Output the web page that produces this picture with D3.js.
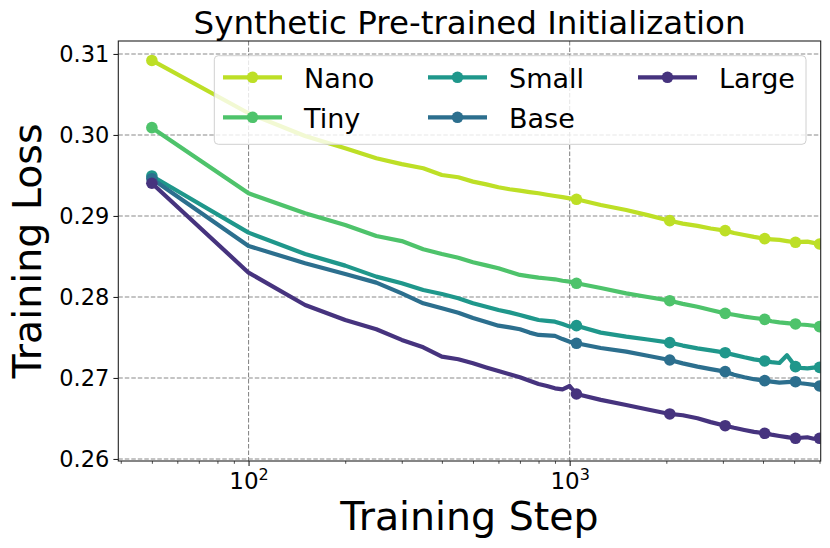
<!DOCTYPE html>
<html>
<head>
<meta charset="utf-8">
<script src="https://cdnjs.cloudflare.com/ajax/libs/d3/7.8.5/d3.min.js"></script>
<style>
    body { margin: 0; background: #fff; }
    text { font-family: "DejaVu Sans", sans-serif; fill: #000; }
</style>
</head>
<body>
<svg></svg>
<script>
// training steps (x) and loss per model size (y)
let steps = [50, 100, 150, 200, 250, 300, 350, 400, 450, 500, 550, 600, 650, 700, 750, 800, 850, 900, 950, 1000,
             1050, 1250, 1500, 1750, 2050, 2250, 2500, 2750, 3050, 3250, 3500, 3750, 4050, 4250, 4500, 4750,
             5050, 5250, 5500, 5750, 6000];

let nano  = [0.30920, 0.30268, 0.29988, 0.29836, 0.29712, 0.29640, 0.29589, 0.29506, 0.29478, 0.29424, 0.29390, 0.29354, 0.29330, 0.29313, 0.29295, 0.29280, 0.29262, 0.29247, 0.29232, 0.29218,
             0.29206, 0.29135, 0.29074, 0.29010, 0.28942, 0.28905, 0.28877, 0.28845, 0.28819, 0.28790, 0.28765, 0.28742, 0.28720, 0.28712, 0.28704, 0.28690,
             0.28675, 0.28680, 0.28683, 0.28668, 0.28654];
let tiny  = [0.30090, 0.29280, 0.29033, 0.28889, 0.28753, 0.28690, 0.28589, 0.28531, 0.28485, 0.28428, 0.28390, 0.28354, 0.28310, 0.28272, 0.28255, 0.28238, 0.28228, 0.28218, 0.28200, 0.28189,
             0.28169, 0.28110, 0.28045, 0.28000, 0.27954, 0.27915, 0.27880, 0.27840, 0.27798, 0.27780, 0.27757, 0.27740, 0.27724, 0.27700, 0.27687, 0.27678,
             0.27667, 0.27660, 0.27654, 0.27645, 0.27634];
let small = [0.29494, 0.28794, 0.28531, 0.28387, 0.28251, 0.28170, 0.28086, 0.28037, 0.27984, 0.27922, 0.27880, 0.27840, 0.27810, 0.27778, 0.27745, 0.27716, 0.27705, 0.27695, 0.27665, 0.27634,
             0.27646, 0.27560, 0.27510, 0.27475, 0.27436, 0.27400, 0.27366, 0.27340, 0.27312, 0.27285, 0.27255, 0.27230, 0.27210, 0.27195, 0.27185, 0.27280,
             0.27140, 0.27125, 0.27119, 0.27128, 0.27131];
let base  = [0.29460, 0.28630, 0.28416, 0.28284, 0.28177, 0.28045, 0.27922, 0.27860, 0.27806, 0.27740, 0.27690, 0.27646, 0.27625, 0.27601, 0.27560, 0.27531, 0.27525, 0.27519, 0.27480, 0.27448,
             0.27428, 0.27370, 0.27325, 0.27275, 0.27222, 0.27180, 0.27140, 0.27110, 0.27078, 0.27040, 0.27009, 0.26985, 0.26967, 0.26955, 0.26942, 0.26948,
             0.26954, 0.26935, 0.26926, 0.26915, 0.26901];
let large = [0.29404, 0.28300, 0.27901, 0.27716, 0.27601, 0.27470, 0.27379, 0.27263, 0.27231, 0.27181, 0.27130, 0.27086, 0.27045, 0.27009, 0.26965, 0.26926, 0.26900, 0.26872, 0.26860, 0.26901,
             0.26802, 0.26730, 0.26667, 0.26610, 0.26556, 0.26540, 0.26502, 0.26455, 0.26411, 0.26385, 0.26358, 0.26335, 0.26317, 0.26300, 0.26284, 0.26270,
             0.26255, 0.26262, 0.26268, 0.26250, 0.26255];

let seriesNames = ["Nano", "Tiny", "Small", "Base", "Large"];
let seriesValues = [nano, tiny, small, base, large];
let markerSteps = [50, 1050, 2050, 3050, 4050, 5050, 6000];

let yTicks = [0.26, 0.27, 0.28, 0.29, 0.30, 0.31];
let xMajorTicks = [100, 1000];
let xMinorTicks = [40, 50, 60, 70, 80, 90, 200, 300, 400, 500, 600, 700, 800, 900, 2000, 3000, 4000, 5000, 6000];

let colors = ["#bddf26", "#4ec36b", "#1f978b", "#2c6f8e", "#46337e"];

let width = 830;
let height = 548;
let plotLeft = 118.3, plotRight = 820.7, plotTop = 41, plotBottom = 461;

let svg = d3.select("svg").attr("width", width).attr("height", height);

let xScale = d3.scaleLog().domain([39.3, 6050]).range([plotLeft, plotRight]);
let yScale = d3.scaleLinear().domain([0.25975, 0.3116]).range([plotBottom, plotTop]);

// grid
svg.append("g")
   .selectAll("line")
   .data(yTicks)
   .enter()
   .append("line")
   .attr("x1", plotLeft).attr("x2", plotRight)
   .attr("y1", (d) => yScale(d)).attr("y2", (d) => yScale(d))
   .attr("stroke", "#8a8a8a").attr("stroke-width", 1.1).attr("stroke-dasharray", "4.5,2");

svg.append("g")
   .selectAll("line")
   .data(xMajorTicks)
   .enter()
   .append("line")
   .attr("x1", (d) => xScale(d)).attr("x2", (d) => xScale(d))
   .attr("y1", plotTop).attr("y2", plotBottom)
   .attr("stroke", "#8a8a8a").attr("stroke-width", 1.1).attr("stroke-dasharray", "4.5,2");

// lines
svg.append("clipPath").attr("id", "plot-clip")
   .append("rect").attr("x", plotLeft).attr("y", plotTop).attr("width", plotRight - plotLeft).attr("height", plotBottom - plotTop);

let plot = svg.append("g").attr("clip-path", "url(#plot-clip)");

let line = d3.line()
             .x((d) => xScale(d[0]))
             .y((d) => yScale(d[1]));

seriesValues.forEach((values, i) => {
    let points = steps.map((s, j) => [s, values[j]]);
    plot.append("path")
        .datum(points)
        .attr("fill", "none")
        .attr("stroke", colors[i])
        .attr("stroke-width", 4.2)
        .attr("stroke-linejoin", "round")
        .attr("d", line);
    plot.selectAll(".m" + i)
        .data(points.filter((p) => markerSteps.includes(p[0])))
        .enter()
        .append("circle")
        .attr("class", "m" + i)
        .attr("cx", (d) => xScale(d[0]))
        .attr("cy", (d) => yScale(d[1]))
        .attr("r", 5.8)
        .attr("fill", colors[i]);
});

// axes
let yAxis = svg.append("g")
   .attr("transform", "translate(" + plotLeft + ",0)")
   .call(d3.axisLeft(yScale).tickValues(yTicks).tickFormat(d3.format(".2f")).tickSize(4.9).tickPadding(4));
yAxis.select(".domain").remove();
yAxis.selectAll("text").attr("font-size", "22.5px").attr("font-family", "DejaVu Sans");
yAxis.selectAll("line").attr("stroke", "#222").attr("stroke-width", 1.1);

let xMinor = svg.append("g")
   .attr("transform", "translate(0," + plotBottom + ")")
   .call(d3.axisBottom(xScale).tickValues(xMinorTicks).tickFormat("").tickSize(2.8));
xMinor.select(".domain").remove();
xMinor.selectAll("line").attr("stroke", "#222").attr("stroke-width", 0.8);

let xAxis = svg.append("g")
   .attr("transform", "translate(0," + plotBottom + ")")
   .call(d3.axisBottom(xScale).tickValues(xMajorTicks).tickFormat("").tickSize(4.9));
xAxis.select(".domain").remove();
xAxis.selectAll("line").attr("stroke", "#222").attr("stroke-width", 1.1);

xAxis.selectAll(".tick")
     .append("text")
     .attr("y", 27.5)
     .attr("text-anchor", "middle")
     .attr("font-size", "23px")
     .attr("font-family", "DejaVu Sans")
     .style("fill", "#000")
     .each(function (d) {
         let t = d3.select(this);
         t.append("tspan").text("10");
         t.append("tspan").attr("dy", -9).attr("font-size", "16px").text(Math.round(Math.log10(d)));
     });

// frame
svg.append("rect")
   .attr("x", plotLeft).attr("y", plotTop)
   .attr("width", plotRight - plotLeft).attr("height", plotBottom - plotTop)
   .attr("fill", "none").attr("stroke", "#222").attr("stroke-width", 1.1);

// legend
let legend = svg.append("g");
legend.append("rect")
      .attr("x", 214.3).attr("y", 55.7)
      .attr("width", 806 - 214.3).attr("height", 144.3 - 55.7)
      .attr("rx", 4)
      .attr("fill", "#fff").attr("fill-opacity", 0.8)
      .attr("stroke", "#d0d0d0").attr("stroke-width", 1);

let legendCols = [223, 428, 638];
seriesNames.forEach((name, i) => {
    let cx = legendCols[Math.floor(i / 2)];
    let cy = 77.3 + (i % 2) * 40;
    let item = legend.append("g");
    item.append("line")
        .attr("x1", cx).attr("x2", cx + 59)
        .attr("y1", cy).attr("y2", cy)
        .attr("stroke", colors[i]).attr("stroke-width", 4.2);
    item.append("circle")
        .attr("cx", cx + 29.5).attr("cy", cy).attr("r", 5.8)
        .attr("fill", colors[i]);
    item.append("text")
        .attr("x", cx + 81).attr("y", cy + 10.5)
        .attr("font-size", "27px")
        .text(name);
});

// titles
svg.append("text")
   .attr("x", (plotLeft + plotRight) / 2).attr("y", 34)
   .attr("text-anchor", "middle")
   .attr("font-size", "32.5px")
   .text("Synthetic Pre-trained Initialization");

svg.append("text")
   .attr("x", (plotLeft + plotRight) / 2).attr("y", 530)
   .attr("text-anchor", "middle")
   .attr("font-size", "39.5px")
   .text("Training Step");

svg.append("text")
   .attr("transform", "translate(41," + ((plotTop + plotBottom) / 2) + ") rotate(-90)")
   .attr("text-anchor", "middle")
   .attr("font-size", "39.5px")
   .text("Training Loss");
</script>
</body>
</html>
